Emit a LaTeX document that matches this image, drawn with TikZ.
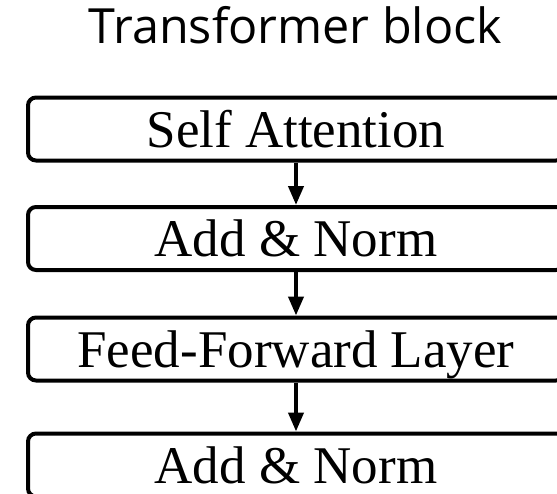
\documentclass[tikz,border=0pt]{standalone}
\usepackage{fontspec}
\setmainfont{Liberation Serif}
\newfontfamily\titlefont{Open Sans}
\usetikzlibrary{arrows.meta}
\begin{document}
\begin{tikzpicture}[x=1pt,y=1pt,
  blockbox/.style={draw, line width=4pt, rounded corners=8pt, inner sep=0pt,
    minimum width=536pt, minimum height=63pt, font=\fontsize{53}{60}\selectfont,
    text height=36pt, text depth=0pt},
  flowarrow/.style={line width=4pt, -{Triangle[width=15pt,length=19pt]}}]
\useasboundingbox (0,0) rectangle (557,-493);
\clip (0,0) rectangle (557,-493);
\fill[white] (0,0) rectangle (557,-493);
\node[anchor=base, font=\titlefont\fontsize{48.5}{56}\selectfont] (title) at (295.5,-43) {Transformer block};
\node[blockbox] (b1) at (296,-129) {Self Attention};
\node[blockbox] (b2) at (296,-238.5) {Add \& Norm};
\node[blockbox] (b3) at (296,-349) {Feed-Forward Layer};
\node[blockbox] (b4) at (296,-465) {Add \& Norm};
\draw[flowarrow] (b1.south) -- (b2.north);
\draw[flowarrow] (b2.south) -- (b3.north);
\draw[flowarrow] (b3.south) -- (b4.north);
\end{tikzpicture}
\end{document}
